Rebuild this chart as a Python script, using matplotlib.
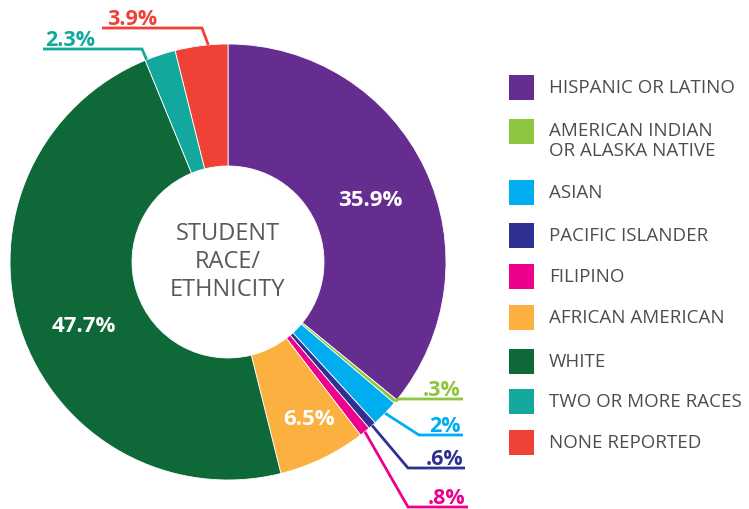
import matplotlib
matplotlib.use("Agg")
import matplotlib.pyplot as plt
import numpy as np

# ---- data ----
categories = ["HISPANIC OR LATINO", "AMERICAN INDIAN\nOR ALASKA NATIVE", "ASIAN",
              "PACIFIC ISLANDER", "FILIPINO", "AFRICAN AMERICAN", "WHITE",
              "TWO OR MORE RACES", "NONE REPORTED"]
values = [35.9, 0.3, 2.0, 0.6, 0.8, 6.5, 47.7, 2.3, 3.9]
value_labels = ["35.9%", ".3%", "2%", ".6%", ".8%", "6.5%", "47.7%", "2.3%", "3.9%"]
colors = ["#652D90", "#8DC63F", "#00AEEF", "#2E3192", "#EC008C",
          "#FBB040", "#0E6838", "#13A89E", "#EF4136"]

W, H = 749, 510
fig = plt.figure(figsize=(W / 100, H / 100), dpi=100)
ax = fig.add_axes([0, 0, 1, 1])

def Y(y):
    return H - y

cx, cy, R, r_in = 228, 263, 218, 96
wedges, _ = ax.pie(values, colors=colors, startangle=90, counterclock=False,
                   center=(cx, Y(cy)), radius=R,
                   wedgeprops=dict(width=R - r_in, edgecolor="white", linewidth=0.6))
ax.set_xlim(0, W)
ax.set_ylim(0, H)
ax.set_aspect("auto")
ax.axis("off")

fam = ["Open Sans", "DejaVu Sans"]
gray = "#4D4D4F"

# centre text
ax.text(cx, Y(cy - 1), "STUDENT\nRACE/\nETHNICITY", ha="center", va="center",
        fontsize=17, color="#58595B", family=fam, linespacing=1.2)

# inside labels (index -> position)
inside = {0: (370, 200), 6: (84, 327), 5: (309, 420)}
for i, (x, y) in inside.items():
    ax.text(x, Y(y), value_labels[i], ha="center", va="center", color="white",
            fontsize=16, fontweight="bold", family=fam)

def wedge_point(i, frac):
    w = wedges[i]
    th = np.deg2rad(w.theta1 + (w.theta2 - w.theta1) * frac)
    return cx + R * np.cos(th), Y(cy) + R * np.sin(th)

# outside labels: index -> (fraction in wedge, elbow, end, text x, ha)
outside = {
    1: (0.5, (398, 400), (463, 400), 461, "right"),
    2: (0.5, (419, 436), (463, 436), 461, "right"),
    3: (0.5, (408, 469), (465, 469), 463, "right"),
    4: (0.5, (408, 508), (468, 508), 465, "right"),
    7: (0.95, (142, 50), (43, 50), 45, "left"),
    8: (0.37, (202, 29), (102, 29), 107, "left"),
}
for i, (frac, elbow, end, tx, ha) in outside.items():
    sx, sy = wedge_point(i, frac)
    ax.plot([sx, elbow[0], end[0]], [sy, Y(elbow[1]), Y(end[1])],
            color=colors[i], lw=2, solid_capstyle="butt", solid_joinstyle="miter")
    ax.text(tx, Y(end[1]) + 4, value_labels[i], ha=ha, va="baseline",
            color=colors[i], fontsize=15.5, fontweight="bold", family=fam)

# legend
leg_y = [88, 132, 193, 236, 277, 318, 362, 402, 443]
text_y = [88, 141, 193, 236, 277, 318, 362, 402, 443]
for i, lab in enumerate(categories):
    ax.add_patch(plt.Rectangle((509, Y(leg_y[i]) - 12.5), 25, 25, color=colors[i], lw=0))
    ax.text(549, Y(text_y[i]), lab, ha="left", va="center", fontsize=13.5, color=gray,
            family=fam, linespacing=1.1)

fig.savefig("out.png", dpi=100)
